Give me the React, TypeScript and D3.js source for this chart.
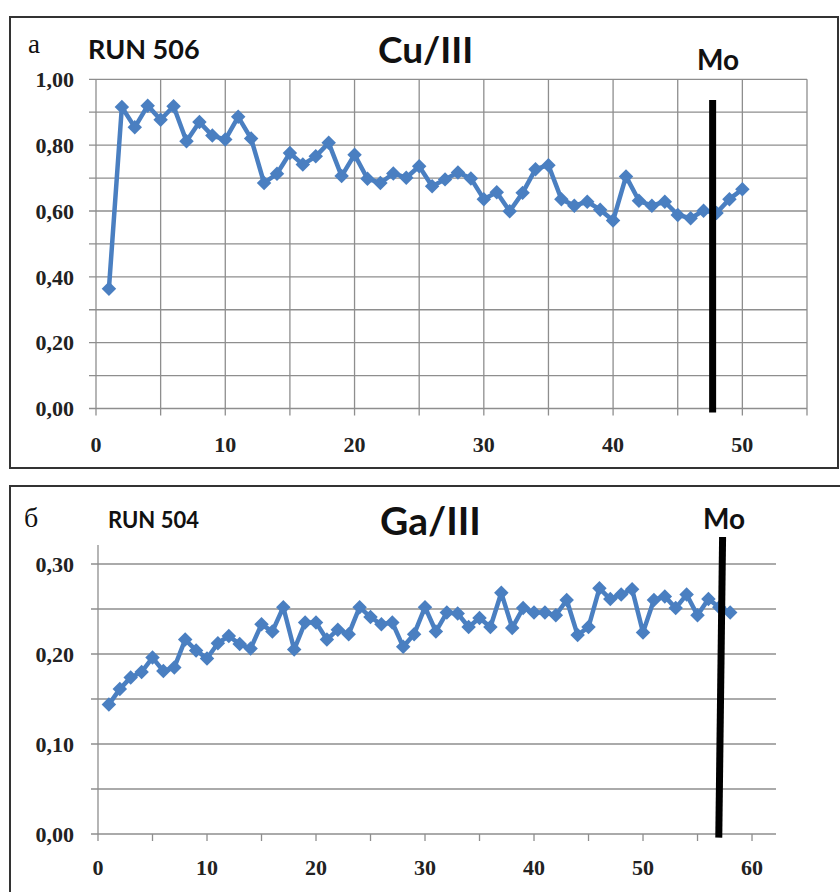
import React from "react";
import * as d3 from "d3";

// RUN 506, Cu/III ratio per sample
const cuValues = [
  0.364, 0.916, 0.854, 0.92, 0.877, 0.918, 0.812, 0.87, 0.829, 0.817,
  0.886, 0.82, 0.685, 0.713, 0.776, 0.741, 0.766, 0.807, 0.706, 0.771,
  0.698, 0.685, 0.714, 0.701, 0.736, 0.675, 0.696, 0.717, 0.699, 0.636,
  0.657, 0.599, 0.655, 0.727, 0.739, 0.636, 0.616, 0.628, 0.604, 0.571,
  0.705, 0.631, 0.616, 0.628, 0.588, 0.578, 0.601, 0.594, 0.636, 0.666,
];

// RUN 504, Ga/III ratio per sample
const gaValues = [
  0.144, 0.161, 0.174, 0.18, 0.196, 0.181, 0.185, 0.216, 0.204, 0.195,
  0.212, 0.22, 0.211, 0.206, 0.233, 0.225, 0.252, 0.205, 0.235, 0.235,
  0.216, 0.227, 0.222, 0.252, 0.241, 0.233, 0.235, 0.208, 0.222, 0.252,
  0.225, 0.246, 0.245, 0.23, 0.24, 0.23, 0.268, 0.229, 0.251, 0.246,
  0.246, 0.243, 0.26, 0.221, 0.23, 0.273, 0.261, 0.266, 0.272, 0.224,
  0.26, 0.264, 0.251, 0.266, 0.243, 0.261, 0.252, 0.246,
];

const cuYTicks = [0, 0.2, 0.4, 0.6, 0.8, 1.0];
const cuXTicks = [0, 10, 20, 30, 40, 50];
const gaYTicks = [0, 0.1, 0.2, 0.3];
const gaXTicks = [0, 10, 20, 30, 40, 50, 60];

// "Mo" marker line ends [x, y]
const cuMo: [number, number][] = [[47.7, 0.937], [47.7, -0.012]];
const gaMo: [number, number][] = [[57.3, 0.33], [56.95, -0.004]];

const BLUE = "#4a7fc1";
const GRID = "#8e8e8e";
const serif = "'Liberation Serif', 'Times New Roman', serif";
const sans = "Lato, 'Open Sans', sans-serif";
const fmt = (v: number) => v.toFixed(2).replace(".", ",");

const diamond = d3.symbol(d3.symbolSquare, 105)();

function Series({ values, x, y }: any) {
  const line = d3
    .line<number>()
    .x((d, i) => x(i + 1))
    .y((d) => y(d));
  return (
    <g>
      <path d={line(values) || ""} fill="none" stroke={BLUE} strokeWidth={4.5} strokeLinejoin="round" />
      {values.map((v: number, i: number) => (
        <path
          key={i}
          d={diamond || ""}
          fill={BLUE}
          transform={`translate(${x(i + 1)},${y(v)}) rotate(45)`}
        />
      ))}
    </g>
  );
}

function TopChart() {
  const x = d3.scaleLinear().domain([0, 55]).range([96, 807]);
  const y = d3.scaleLinear().domain([0, 1]).range([408.5, 79.3]);
  const xGrid = d3.range(0, 55.01, 5);
  const yGrid = d3.range(0, 1.001, 0.1);
  const mo = d3.line().x((d) => x(d[0])).y((d) => y(d[1]));
  return (
    <g>
      <rect x={10} y={17} width={828} height={451} fill="#fff" stroke="#333" strokeWidth={2} />
      {yGrid.map((v) => (
        <line key={"h" + v} x1={x(0) - 7} x2={x(55)} y1={y(v)} y2={y(v)} stroke={GRID} strokeWidth={1.3} />
      ))}
      {xGrid.map((v) => (
        <line key={"v" + v} x1={x(v)} x2={x(v)} y1={y(1)} y2={y(0) + 7} stroke={GRID} strokeWidth={1.3} />
      ))}
      {cuYTicks.map((v) => (
        <text key={"yl" + v} x={74} y={y(v)} dy="0.35em" textAnchor="end" fontFamily={serif} fontWeight="bold" fontSize={22} fill="#222">
          {fmt(v)}
        </text>
      ))}
      {cuXTicks.map((v) => (
        <text key={"xl" + v} x={x(v)} y={452} textAnchor="middle" fontFamily={serif} fontWeight="bold" fontSize={22} fill="#222">
          {v}
        </text>
      ))}
      <Series values={cuValues} x={x} y={y} />
      <path d={mo(cuMo) || ""} stroke="#000" strokeWidth={7} fill="none" />
      <text x={28} y={53} fontFamily={serif} fontSize={27} fill="#111">а</text>
      <text x={88} y={59} fontFamily={sans} fontWeight="bold" fontSize={27} fill="#111">RUN 506</text>
      <text x={378} y={63} fontFamily={sans} fontWeight="bold" fontSize={37} fill="#111">Cu/III</text>
      <text x={697} y={70} fontFamily={sans} fontWeight="bold" fontSize={28} fill="#111">Mo</text>
    </g>
  );
}

function BottomChart() {
  const x = d3.scaleLinear().domain([0, 62.2]).range([98, 776]);
  const y = d3.scaleLinear().domain([0, 0.3]).range([834, 564]);
  const xTickVals = d3.range(0, 60.01, 5);
  const yGrid = d3.range(0.05, 0.301, 0.05);
  const mo = d3.line().x((d) => x(d[0])).y((d) => y(d[1]));
  return (
    <g>
      <rect x={10} y={486} width={840} height={420} fill="#fff" stroke="#333" strokeWidth={2} />
      {yGrid.map((v) => (
        <line key={"h" + v} x1={x(0) - 7} x2={x(62.2)} y1={y(v)} y2={y(v)} stroke={GRID} strokeWidth={1.3} />
      ))}
      <line x1={x(0) - 7} x2={x(62.2)} y1={y(0)} y2={y(0)} stroke={GRID} strokeWidth={1.3} />
      <line x1={x(0)} x2={x(0)} y1={y(0.321)} y2={y(0)} stroke={GRID} strokeWidth={1.3} />
      {xTickVals.map((v) => (
        <line key={"t" + v} x1={x(v)} x2={x(v)} y1={y(0)} y2={y(0) + 7} stroke={GRID} strokeWidth={1.3} />
      ))}
      {gaYTicks.map((v) => (
        <text key={"yl" + v} x={74} y={y(v)} dy="0.35em" textAnchor="end" fontFamily={serif} fontWeight="bold" fontSize={22} fill="#222">
          {fmt(v)}
        </text>
      ))}
      {gaXTicks.map((v) => (
        <text key={"xl" + v} x={x(v)} y={875} textAnchor="middle" fontFamily={serif} fontWeight="bold" fontSize={22} fill="#222">
          {v}
        </text>
      ))}
      <Series values={gaValues} x={x} y={y} />
      <path d={mo(gaMo) || ""} stroke="#000" strokeWidth={7} fill="none" />
      <text x={24} y={527} fontFamily={serif} fontSize={28} fill="#111">б</text>
      <text x={108} y={528} fontFamily={sans} fontWeight="bold" fontSize={22} fill="#111">RUN 504</text>
      <text x={380} y={535} fontFamily={sans} fontWeight="bold" fontSize={39} fill="#111">Ga/III</text>
      <text x={703} y={529} fontFamily={sans} fontWeight="bold" fontSize={28} fill="#111">Mo</text>
    </g>
  );
}

export default function App() {
  return (
    <svg
      width={840}
      height={892}
      style={{ position: "absolute", left: 0, top: 0, display: "block", background: "#fff" }}
    >
      <TopChart />
      <BottomChart />
    </svg>
  );
}
